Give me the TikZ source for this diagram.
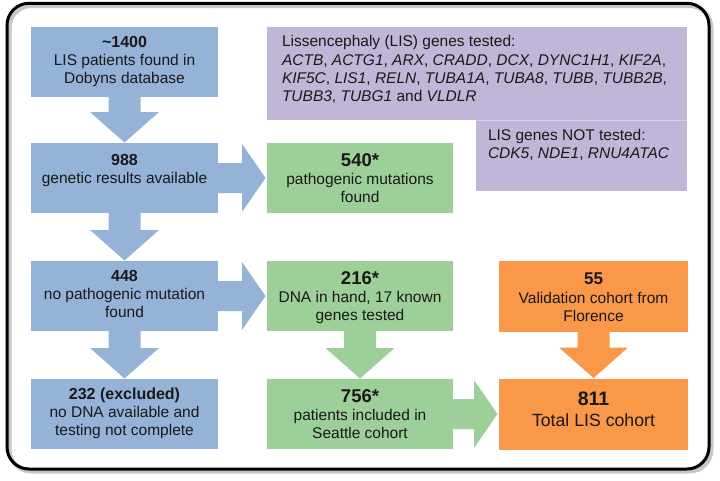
\documentclass[tikz,border=0pt]{standalone}
\usepackage{fontspec}
\setmainfont{Liberation Sans}
\usetikzlibrary{calc}
\definecolor{bxblue}{RGB}{149,179,215}
\definecolor{bxgreen}{RGB}{157,207,152}
\definecolor{bxpurple}{RGB}{194,182,216}
\definecolor{bxorange}{RGB}{248,152,72}
\definecolor{txt}{RGB}{25,25,25}
% box text: width, height, first-baseline offset, content
\newcommand\bt[4]{\parbox[c][#2][t]{#1}{\centering\fontsize{15.5}{18}\selectfont\rule{0pt}{#3}#4}}
% left-aligned box text: width, height, first-baseline offset, left margin, content
\newcommand\lt[5]{\parbox[c][#2][t]{#1}{\raggedright\leftskip=#4\fontsize{15.5}{18.3}\selectfont\rule{0pt}{#3}#5}}
\newcommand\bnum[2]{{\fontsize{#1}{#1}\selectfont\bfseries #2}}
\newcommand\arrdown[3]{\fill[#1] ($(#2.south)+(-16,0)$) -- ($(#2.south)+(16,0)$) -- ($(#3.north)+(16,-31)$) -- ($(#3.north)+(34.5,-31)$) -- ($(#3.north)+(0,-0.5)$) -- ($(#3.north)+(-34.5,-31)$) -- ($(#3.north)+(-16,-31)$) -- cycle;}
\newcommand\arrright[3]{\fill[#1] ($(#2.east)+(0,-15)$) -- ($(#3.west)+(-25,-15)$) -- ($(#3.west)+(-25,-34)$) -- ($(#3.west)+(-1.5,0)$) -- ($(#3.west)+(-25,34)$) -- ($(#3.west)+(-25,15)$) -- ($(#2.east)+(0,15)$) -- cycle;}
\tikzset{
  bx/.style={inner sep=0pt, outer sep=0pt, text=txt},
}
\begin{document}
\begin{tikzpicture}[x=1pt,y=-1pt]
\useasboundingbox (0,0) rectangle (720,480);
\fill[white] (0,0) rectangle (720,480);
% frame with shadow
\draw[line width=4pt, black!22, rounded corners=22pt] (9.5,6) rectangle (711.5,471.5);
\draw[line width=3pt, black, rounded corners=22pt] (7,3.3) rectangle (709,469);

% blue column
\node[bx, fill=bxblue] (b1) at (124.5,62) {\bt{187pt}{70pt}{20.5pt}{\bnum{16}{\textasciitilde1400}\\LIS patients found in\\Dobyns database}};
\node[bx, fill=bxblue] (b2) at (124.5,178) {\bt{187pt}{70pt}{22pt}{\bnum{16}{988}\\genetic results available}};
\node[bx, fill=bxblue] (b3) at (124.5,296) {\bt{187pt}{70pt}{20.7pt}{\bnum{16}{448}\\no pathogenic mutation\\found}};
\node[bx, fill=bxblue] (b4) at (124.5,414) {\bt{187pt}{70pt}{20.5pt}{\bnum{16}{232 (excluded)}\\no DNA available and\\testing not complete}};

% green column
\node[bx, fill=bxgreen] (g1) at (360,178) {\bt{186pt}{70pt}{23.7pt}{\bnum{18.5}{540*}\\pathogenic mutations\\found}};
\node[bx, fill=bxgreen] (g2) at (360,296) {\bt{186pt}{70pt}{23.5pt}{\bnum{18.5}{216*}\\DNA in hand, 17 known\\genes tested}};
\node[bx, fill=bxgreen] (g3) at (360,414) {\bt{186pt}{70pt}{23.7pt}{\bnum{18.5}{756*}\\patients included in\\Seattle cohort}};

% orange column
\node[bx, fill=bxorange] (o1) at (593.5,296) {\bt{189pt}{71pt}{24.3pt}{\bnum{17}{55}\\[0.4pt]Validation cohort from\\[0.6pt]Florence}};
\node[bx, fill=bxorange] (o2) at (593.5,414) {\bt{189pt}{71pt}{27pt}{\bnum{19.5}{811}\\[3pt]{\fontsize{17.7}{21}\selectfont Total LIS cohort}}};

% purple gene lists
\node[bx, fill=bxpurple] (p1) at (477,73.5) {\lt{420pt}{93pt}{19.7pt}{15pt}{Lissencephaly (LIS) genes tested:\\
\textit{ACTB}, \textit{ACTG1}, \textit{ARX}, \textit{CRADD}, \textit{DCX}, \textit{DYNC1H1}, \textit{KIF2A},\\
\textit{KIF5C}, \textit{LIS1}, \textit{RELN}, \textit{TUBA1A}, \textit{TUBA8}, \textit{TUBB}, \textit{TUBB2B},\\
\textit{TUBB3}, \textit{TUBG1} and \textit{VLDLR}}};
\node[bx, fill=bxpurple] (p2) at (581.5,155.5) {\lt{211pt}{71pt}{20pt}{12pt}{LIS genes NOT tested:\\
\textit{CDK5}, \textit{NDE1}, \textit{RNU4ATAC}}};
\draw[bxpurple!60!white, line width=0.8pt] (p2.north west) -- (p2.north east);

% block arrows
\arrdown{bxblue}{b1}{b2}
\arrdown{bxblue}{b2}{b3}
\arrdown{bxblue}{b3}{b4}
\arrright{bxblue}{b2}{g1}
\arrright{bxblue}{b3}{g2}
\arrdown{bxgreen}{g2}{g3}
\arrright{bxgreen}{g3}{o2}
\arrdown{bxorange}{o1}{o2}
\end{tikzpicture}
\end{document}
